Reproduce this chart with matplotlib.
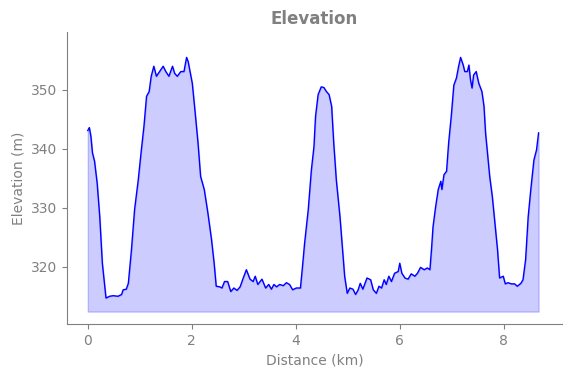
import matplotlib
matplotlib.use("Agg")
from matplotlib import pyplot as plt

# Perfil de elevacion (distancia en km, elevacion en m)
distancia = [
    0.00, 0.03, 0.06, 0.09, 0.13, 0.18, 0.23, 0.28, 0.35, 0.42, 0.49, 0.58,
    0.65, 0.68, 0.74, 0.78, 0.84, 0.90, 0.97, 1.03, 1.08, 1.13, 1.18, 1.22,
    1.27, 1.32, 1.38, 1.45, 1.50, 1.56, 1.63, 1.67, 1.72, 1.79, 1.85, 1.90,
    1.93, 2.01, 2.06, 2.12, 2.17, 2.24, 2.31, 2.38, 2.43, 2.47, 2.54, 2.58,
    2.63, 2.69, 2.75, 2.81, 2.87, 2.93, 2.99, 3.05, 3.12, 3.18, 3.22, 3.27,
    3.35, 3.42, 3.48, 3.53, 3.58, 3.63, 3.69, 3.76, 3.82, 3.88, 3.94, 4.01,
    4.09, 4.13, 4.17, 4.24, 4.30, 4.35, 4.38, 4.43, 4.49, 4.54, 4.59, 4.64,
    4.69, 4.73, 4.78, 4.85, 4.90, 4.94, 4.99, 5.04, 5.10, 5.15, 5.20, 5.24,
    5.29, 5.37, 5.44, 5.49, 5.55, 5.60, 5.65, 5.70, 5.74, 5.79, 5.84, 5.90,
    5.97, 6.00, 6.04, 6.10, 6.16, 6.22, 6.29, 6.34, 6.40, 6.47, 6.53, 6.58,
    6.61, 6.64, 6.69, 6.74, 6.79, 6.81, 6.85, 6.90, 6.94, 6.99, 7.04, 7.09,
    7.13, 7.17, 7.22, 7.25, 7.30, 7.33, 7.36, 7.39, 7.42, 7.47, 7.52, 7.58,
    7.62, 7.65, 7.69, 7.73, 7.78, 7.83, 7.88, 7.92, 7.99, 8.03, 8.08, 8.15,
    8.21, 8.26, 8.33, 8.37, 8.42, 8.47, 8.52, 8.58, 8.63, 8.67,
]
elevacion = [
    343.1, 343.6, 342.1, 339.3, 337.9, 334.2, 328.5, 320.6, 314.7, 315.0, 315.1, 315.0,
    315.3, 316.1, 316.2, 317.2, 322.9, 329.7, 334.7, 339.8, 343.8, 348.9, 349.7, 352.3,
    354.0, 352.3, 353.1, 354.0, 353.1, 352.3, 354.0, 352.8, 352.3, 353.1, 353.1, 355.5,
    354.8, 351.1, 346.6, 341.0, 335.3, 333.1, 329.1, 324.6, 320.6, 316.7, 316.6, 316.4,
    317.5, 317.5, 315.8, 316.4, 316.0, 316.6, 318.1, 319.5, 317.9, 317.5, 318.4, 317.0,
    317.9, 316.4, 317.0, 316.2, 317.0, 316.6, 317.0, 316.8, 317.3, 317.0, 316.1, 316.4,
    316.4, 320.1, 324.0, 329.7, 336.4, 340.4, 345.5, 349.2, 350.5, 350.4, 349.7, 349.2,
    347.2, 341.0, 334.7, 328.5, 322.9, 318.4, 315.5, 316.4, 316.2, 315.3, 316.1, 317.2,
    316.2, 318.1, 317.8, 316.1, 315.5, 316.7, 316.4, 317.8, 317.0, 318.4, 317.5, 318.9,
    319.2, 320.6, 318.9, 318.1, 317.9, 318.8, 318.4, 318.9, 319.9, 319.5, 319.8, 319.5,
    322.9, 326.8, 330.2, 333.1, 334.5, 333.1, 335.6, 336.2, 341.0, 345.5, 350.8, 352.0,
    353.9, 355.5, 354.2, 353.1, 353.1, 354.2, 351.7, 350.3, 352.5, 353.1, 351.1, 349.7,
    347.2, 342.7, 339.0, 335.3, 331.9, 327.4, 322.9, 318.1, 318.4, 317.1, 317.3, 317.1,
    317.1, 316.7, 317.2, 317.8, 321.2, 328.5, 333.1, 338.1, 339.8, 342.7,
]
base = 312.4

gris = '#808080'

fig = plt.figure(figsize=(5.71, 3.78), dpi=100)
ax = fig.add_axes([0.1173, 0.1429, 0.8669, 0.7724])

ax.plot(distancia, elevacion, color='blue', linewidth=1)
ax.fill_between(distancia, elevacion, base, color='blue', alpha=0.2)

ax.set_xlim(-0.40, 9.12)
ax.set_ylim(310.3, 359.8)
ax.set_title('Elevation', color=gris, fontweight='bold', fontsize=12)
ax.set_xlabel('Distance (km)', color=gris)
ax.set_ylabel('Elevation (m)', color=gris)

ax.spines['top'].set_visible(False)
ax.spines['right'].set_visible(False)
for s in ['left', 'bottom']:
    ax.spines[s].set_color(gris)
ax.tick_params(colors=gris, labelcolor=gris)

plt.savefig('out.png', dpi=100)
